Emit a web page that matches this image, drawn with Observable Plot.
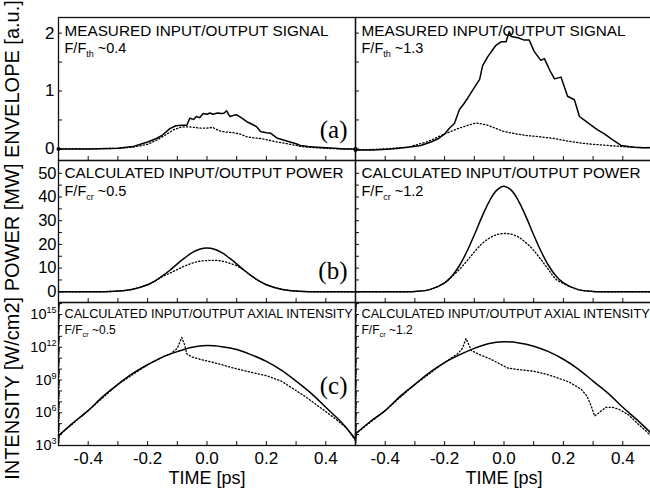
<!DOCTYPE html>
<html><head><meta charset="utf-8">
<script src="https://cdn.jsdelivr.net/npm/d3@7"></script>
<script src="https://cdn.jsdelivr.net/npm/@observablehq/plot@0.6"></script>
<style>
html,body{margin:0;padding:0;background:#fff;}
#chart{position:relative;width:650px;height:492px;overflow:hidden;font-family:"Liberation Sans",Arial,Helvetica,sans-serif;background:#fff;}
#ylab{position:absolute;left:11.5px;top:240px;transform:translate(-50%,-50%) rotate(-90deg);white-space:nowrap;font-size:20px;line-height:20px;color:#000;}
</style></head><body>
<div id="chart"><div id="ylab">INTENSITY [W/cm2] POWER [MW] ENVELOPE [a.u.]</div></div>
<script>
// ---------- data (time in ps) ----------
// Panel (a) measured envelope, left F/Fth ~0.4
const envL_inT = [-0.5,-0.4,-0.3,-0.25,-0.2,-0.17,-0.15,-0.125,-0.105,-0.085,-0.068,-0.058,-0.045,-0.036,-0.025,-0.013,0.0,0.01,0.02,0.035,0.05,0.058,0.066,0.072,0.078,0.09,0.1,0.115,0.134,0.15,0.168,0.18,0.2,0.215,0.235,0.26,0.28,0.3,0.314,0.34,0.37,0.4,0.43,0.46,0.5];
const envL_in  = [0,0,0.01,0.04,0.12,0.18,0.24,0.35,0.40,0.41,0.41,0.53,0.51,0.56,0.54,0.61,0.60,0.62,0.60,0.62,0.61,0.62,0.66,0.60,0.56,0.58,0.59,0.54,0.47,0.43,0.38,0.30,0.28,0.27,0.19,0.15,0.12,0.09,0.06,0.04,0.03,0.02,0.01,0,0];
const envL_outT = [-0.5,-0.4,-0.3,-0.25,-0.2,-0.17,-0.14,-0.113,-0.085,-0.057,-0.024,0.0,0.02,0.043,0.065,0.088,0.11,0.134,0.16,0.18,0.21,0.235,0.26,0.28,0.31,0.336,0.37,0.4,0.45,0.5];
const envL_out  = [0,0,0.01,0.03,0.08,0.15,0.24,0.33,0.38,0.38,0.36,0.36,0.37,0.31,0.29,0.28,0.26,0.21,0.19,0.18,0.15,0.12,0.10,0.08,0.05,0.03,0.02,0.01,0,0];
// Panel (a) right F/Fth ~1.3
const envR_inT = [-0.5,-0.44,-0.38,-0.324,-0.28,-0.246,-0.22,-0.2,-0.183,-0.167,-0.15,-0.135,-0.122,-0.1,-0.082,-0.072,-0.055,-0.04,-0.027,-0.01,0.007,0.018,0.024,0.047,0.068,0.085,0.102,0.124,0.136,0.155,0.17,0.192,0.214,0.237,0.254,0.275,0.293,0.315,0.338,0.365,0.394,0.42,0.44,0.47,0.5];
const envR_in  = [-0.02,-0.02,0.0,0.03,0.06,0.12,0.18,0.26,0.36,0.44,0.68,0.78,0.88,1.06,1.2,1.44,1.59,1.70,1.79,1.85,1.85,2.03,1.94,1.92,1.88,1.88,1.68,1.53,1.56,1.35,1.21,1.24,0.91,0.85,0.56,0.48,0.41,0.33,0.26,0.16,0.06,0.04,0.03,0.02,0.02];
const envR_outT = [-0.5,-0.4,-0.324,-0.26,-0.212,-0.18,-0.156,-0.12,-0.094,-0.075,-0.055,-0.03,0.0,0.04,0.08,0.12,0.17,0.21,0.26,0.3,0.35,0.4,0.43,0.47,0.5];
const envR_out  = [-0.02,0.0,0.03,0.12,0.23,0.30,0.35,0.41,0.45,0.43,0.41,0.36,0.30,0.26,0.23,0.21,0.18,0.14,0.10,0.08,0.06,0.04,0.03,0.02,0.03];
// Panel (b) calculated power [MW]
const powT   = [-0.5,-0.4,-0.35,-0.3,-0.25,-0.2,-0.175,-0.15,-0.125,-0.1,-0.075,-0.05,-0.025,0,0.025,0.05,0.075,0.1,0.125,0.15,0.175,0.2,0.25,0.3,0.35,0.4,0.5];
const powL_in  = [0,0,0.05,0.3,1.1,3.0,4.6,6.7,9.1,11.8,14.3,16.5,18.0,18.5,18.0,16.5,14.3,11.8,9.1,6.7,4.6,3.0,1.1,0.3,0.05,0,0];
const powL_out = [0,0,0.05,0.3,1.1,3.0,4.5,6.4,7.9,9.4,10.9,12.1,12.9,13.2,13.3,13.0,12.1,11.0,9.1,6.7,4.6,3.0,1.1,0.3,0.05,0,0];
const powR_in  = [0,0,0,0.17,0.94,3.8,6.7,11.1,17.0,24.0,31.4,38.1,42.8,44.5,42.8,38.1,31.4,24.0,17.0,11.1,6.7,3.8,0.94,0.17,0,0,0];
const powR_out = [0,0,0,0.17,0.94,3.8,6.5,9.5,13.0,16.8,20.2,22.6,24.1,24.6,24.3,23.0,20.6,17.5,13.5,9.3,5.3,3.5,0.94,0.17,0,0,0];
// Panel (c) axial intensity, log10 of W/cm2
const intT = [-0.5,-0.45,-0.4,-0.35,-0.3,-0.25,-0.2,-0.15,-0.1,-0.05,0,0.05,0.1,0.15,0.2,0.25,0.3,0.35,0.4,0.45,0.5];
const intL_inLog = [3.9,5.1,6.2,7.5,8.6,9.6,10.4,11.1,11.6,12.0,12.15,12.05,11.8,11.3,10.7,9.9,8.9,7.8,6.5,5.2,3.6];
const intL_outT = [-0.5,-0.4,-0.3,-0.2,-0.15,-0.12,-0.1,-0.085,-0.075,-0.068,-0.05,-0.024,0.0,0.05,0.088,0.15,0.2,0.25,0.29,0.33,0.38,0.43,0.47,0.5];
const intL_outLog = [3.9,6.2,8.6,10.4,11.1,11.45,11.9,12.9,12.2,11.4,11.1,10.9,10.75,10.4,10.1,9.7,9.4,8.9,8.2,7.5,6.5,5.5,4.6,3.45];
const intR_inLog = [4.06,5.2,6.2,7.5,8.6,9.7,10.6,11.3,11.9,12.35,12.5,12.4,12.1,11.6,10.9,10.0,8.9,7.8,6.5,5.3,4.0];
const intR_outT = [-0.5,-0.4,-0.3,-0.2,-0.156,-0.14,-0.128,-0.118,-0.11,-0.08,-0.044,0.012,0.05,0.102,0.14,0.18,0.22,0.26,0.28,0.295,0.305,0.32,0.343,0.365,0.388,0.42,0.45,0.475,0.5];
const intR_outLog = [4.06,6.2,8.6,10.6,11.4,11.9,12.8,12.2,11.7,11.3,10.9,10.1,9.95,9.8,9.55,9.2,8.8,8.15,7.5,6.5,5.7,6.0,6.5,6.5,6.3,5.8,5.0,4.4,3.75];

// ---------- axes / labels ----------
const xTickVals = [-0.4,-0.2,0,0.2,0.4];
const xTickText = ["-0.4","-0.2","0.0","0.2","0.4"];
const xMinor = [-0.4,-0.3,-0.2,-0.1,0,0.1,0.2,0.3,0.4];
const envTicks = [0,1,2];
const envMinor = [0,0.5,1,1.5,2];
const powTicks = [0,10,20,30,40,50];
const powMinor = [0,5,10,15,20,25,30,35,40,45,50];
const intTickExp = [3,6,9,12,15];
const titles = ["MEASURED INPUT/OUTPUT SIGNAL","CALCULATED INPUT/OUTPUT POWER","CALCULATED INPUT/OUTPUT AXIAL INTENSITY"];
const ratiosL = ["F/F_{th} ~0.4","F/F_{cr} ~0.5","F/F_{cr} ~0.5"];
const ratiosR = ["F/F_{th} ~1.3","F/F_{cr} ~1.2","F/F_{cr} ~1.2"];
const letters = ["(a)","(b)","(c)"];
const xTitle = "TIME [ps]";

// ---------- layout ----------
const FONT = '"Liberation Sans", Arial, Helvetica, sans-serif';
const chart = document.getElementById("chart");
const cols = [{left:0, width:360, ml:58, mr:5}, {left:300, width:357, ml:55, mr:5}];
const rows = [{top:0, height:162, mt:17, mb:2}, {top:150, height:154, mt:10, mb:2}, {top:292, height:200, mt:10, mb:47}];
const rowStyle = [
  {titleSize:15.3, titleDy:18, ratioSize:14.5, ratioDy:35, letterDy:-23},
  {titleSize:15.3, titleDy:17, ratioSize:14.5, ratioDy:35, letterDy:-24},
  {titleSize:12.7, titleDy:15, ratioSize:12, ratioDy:31, letterDy:-52}
];
const toRows = (ts, vs) => ts.map((t, i) => ({t, v: vs[i]}));
const pow10 = a => a.map(e => Math.pow(10, e));

function richText(svg){
  d3.select(svg).selectAll("text").each(function(){
    const s = this.textContent;
    const m = s.match(/^(.*?)([_^])\{(.*?)\}(.*)$/);
    if (!m) return;
    const fs = parseFloat(getComputedStyle(this).fontSize) || 14;
    const sel = d3.select(this);
    sel.text(null);
    sel.append("tspan").text(m[1]);
    const shift = m[2] === "_" ? 0.3 * fs : -0.42 * fs;
    sel.append("tspan").attr("font-size", (fs * 0.62).toFixed(1)).attr("dy", shift.toFixed(1)).text(m[3]);
    if (m[4]) sel.append("tspan").attr("dy", (-shift).toFixed(1)).text(m[4]);
  });
}

function panel(ci, ri, cfg){
  const c = cols[ci], r = rows[ri], st = rowStyle[ri];
  const innerW = c.width - c.ml - c.mr, innerH = r.height - r.mt - r.mb;
  const marks = [];
  marks.push(Plot.ruleX(xMinor, {x: d => d, insetTop: innerH - 4, stroke: "#111", strokeWidth: 1}));
  marks.push(Plot.ruleY(cfg.yMinor, {y: d => d, insetRight: innerW - 4, stroke: "#111", strokeWidth: 1}));
  if (cfg.yMinor2) marks.push(Plot.ruleY(cfg.yMinor2, {y: d => d, insetRight: innerW - 2, stroke: "#111", strokeWidth: 0.8}));
  marks.push(Plot.line(cfg.out, {x: "t", y: "v", stroke: "#000", strokeWidth: 1.3, strokeDasharray: "1.2,2.2", curve: cfg.curveOut || "linear"}));
  marks.push(Plot.line(cfg.inp, {x: "t", y: "v", stroke: "#000", strokeWidth: 1.5, curve: cfg.curveIn || "linear"}));
  if (cfg.dots) marks.push(Plot.dot(cfg.dots, {x: "t", y: "v", r: 2, fill: "#000"}));
  marks.push(Plot.frame({stroke: "#111", strokeWidth: 1.3}));
  marks.push(Plot.text([titles[ri]], {text: d => d, frameAnchor: "top-left", textAnchor: "start", lineAnchor: "bottom", dx: 6, dy: st.titleDy, fontSize: st.titleSize, fill: "#000"}));
  marks.push(Plot.text([(ci === 0 ? ratiosL : ratiosR)[ri]], {text: d => d, frameAnchor: "top-left", textAnchor: "start", lineAnchor: "bottom", dx: 6, dy: st.ratioDy, fontSize: st.ratioSize, fill: "#000"}));
  if (ci === 0) {
    marks.push(Plot.text([letters[ri]], {text: d => d, frameAnchor: "bottom-right", textAnchor: "end", lineAnchor: "bottom", dx: -8, dy: st.letterDy, fontSize: 25, fontFamily: '"Liberation Serif", "Times New Roman", serif', fill: "#000"}));
    marks.push(Plot.text(cfg.yTicks, {y: d => d, text: cfg.yFmt, frameAnchor: "left", textAnchor: "end", lineAnchor: "middle", dx: cfg.yDx, fontSize: cfg.yFont, fill: "#000"}));
  }
  if (ri === 2) {
    marks.push(Plot.text(xTickVals, {x: d => d, text: (d, i) => xTickText[i], frameAnchor: "bottom", lineAnchor: "bottom", dy: 18, fontSize: 17, fill: "#000"}));
    marks.push(Plot.text([xTitle], {text: d => d, frameAnchor: "bottom", lineAnchor: "bottom", dy: 38, fontSize: 18, fill: "#000"}));
  }
  const svg = Plot.plot({
    width: c.width, height: r.height,
    marginLeft: c.ml, marginRight: c.mr, marginTop: r.mt, marginBottom: r.mb,
    x: {domain: [-0.5, 0.5], axis: null},
    y: Object.assign({axis: null}, cfg.y),
    style: {background: "none", overflow: "visible", maxWidth: "none", fontFamily: FONT, color: "#000"},
    marks
  });
  svg.style.position = "absolute";
  svg.style.left = c.left + "px";
  svg.style.top = r.top + "px";
  chart.appendChild(svg);
  richText(svg);
}

const envY = {domain: [-0.2, 2.27]};
const powY = {domain: [-4.5, 55.4]};
const intY = {type: "log", domain: [1e3, Math.pow(10, 16.1)]};
const intMinor = d3.scaleLog().domain(intY.domain).ticks(200);
const intMajor = intMinor.filter(d => Math.abs(Math.log10(d) - Math.round(Math.log10(d))) < 1e-9);
const intMinorOnly = intMinor.filter(d => !intMajor.includes(d));

const envCfg = (inp, out, dots) => ({inp, out, dots, y: envY, yMinor: envMinor, yTicks: envTicks, yFmt: d => String(d), yDx: -4, yFont: 17});
const powCfg = (inp, out) => ({inp, out, y: powY, yMinor: powMinor, yTicks: powTicks, yFmt: d => String(d), yDx: -2, yFont: 16.5, curveIn: "catmull-rom", curveOut: "catmull-rom"});
const intCfg = (inp, out) => ({inp, out, y: intY, yMinor: intMajor, yMinor2: intMinorOnly, yTicks: pow10(intTickExp), yFmt: d => `10^{${Math.round(Math.log10(d))}}`, yDx: -2, yFont: 14.5, curveIn: "catmull-rom", curveOut: "linear"});

const eL_in = toRows(envL_inT, envL_in), eR_in = toRows(envR_inT, envR_in);
panel(0, 0, envCfg(eL_in, toRows(envL_outT, envL_out), [eL_in[0], eL_in[eL_in.length - 1]]));
panel(1, 0, envCfg(eR_in, toRows(envR_outT, envR_out), [eR_in[0]]));
panel(0, 1, powCfg(toRows(powT, powL_in), toRows(powT, powL_out)));
panel(1, 1, powCfg(toRows(powT, powR_in), toRows(powT, powR_out)));
panel(0, 2, intCfg(toRows(intT, pow10(intL_inLog)), toRows(intL_outT, pow10(intL_outLog))));
panel(1, 2, intCfg(toRows(intT, pow10(intR_inLog)), toRows(intR_outT, pow10(intR_outLog))));
</script>
</body></html>
